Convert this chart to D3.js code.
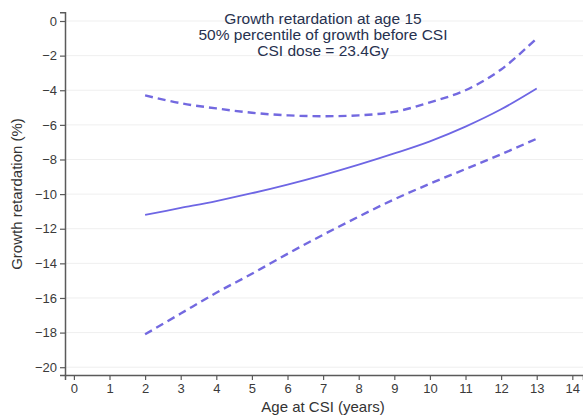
<!DOCTYPE html>
<html><head><meta charset="utf-8">
<script src="https://cdn.jsdelivr.net/npm/d3@7"></script>
<style>body{margin:0;background:#fff;} svg{display:block;font-family:"Liberation Sans",Arial,sans-serif;}</style>
</head><body>
<svg id="c" width="583" height="416"></svg>
<script>
const ages = [2,3,4,5,6,7,8,9,10,11,12,13];
const estimate = [-11.2,-10.8,-10.4,-9.95,-9.45,-8.9,-8.3,-7.65,-6.95,-6.1,-5.1,-3.9];
const upperCI = [-4.3,-4.75,-5.05,-5.3,-5.45,-5.5,-5.45,-5.25,-4.7,-4.0,-2.8,-1.0];
const lowerCI = [-18.1,-16.9,-15.7,-14.6,-13.45,-12.35,-11.3,-10.3,-9.4,-8.55,-7.7,-6.8];
const xTicks = d3.range(0,15);
const yTicks = [0,-2,-4,-6,-8,-10,-12,-14,-16,-18,-20];
const titleLines = ["Growth retardation at age 15","50% percentile of growth before CSI","CSI dose = 23.4Gy"];
const xLabel = "Age at CSI (years)";
const yLabel = "Growth retardation (%)";

const svg = d3.select("#c");
const x = d3.scaleLinear().domain([-0.25,14.3]).range([65,583]);
const y = d3.scaleLinear().domain([0.5,-20.45]).range([12.35,375]);

// gridlines
svg.append("g").selectAll("line").data(yTicks).join("line")
  .attr("x1",x(-0.25)).attr("x2",583).attr("y1",d=>y(d)).attr("y2",d=>y(d))
  .attr("stroke","#efefef").attr("stroke-width",1);

// axes
const axStroke = "#5a5a5a";
const gy = svg.append("g").attr("transform",`translate(${x(-0.25)},0)`)
  .call(d3.axisLeft(y).tickValues(yTicks).tickSize(5).tickPadding(3).tickFormat(d=>d===0?"0":d3.format("d")(d)));
const gx = svg.append("g").attr("transform",`translate(0,${y(-20.45)})`)
  .call(d3.axisBottom(x).tickValues(xTicks).tickSize(5).tickPadding(4));
[gx,gy].forEach(g=>{
  g.select(".domain").attr("stroke",axStroke).attr("stroke-width",1.5);
  g.selectAll(".tick line").attr("stroke",axStroke).attr("stroke-width",1.2);
  g.selectAll(".tick text").attr("fill","#3a3a3a").style("font-size","13px").style("font-family","'Liberation Sans',Arial,sans-serif");
});

// lines
const line = d3.line().x((d,i)=>x(ages[i])).y(d=>y(d)).curve(d3.curveCatmullRom);
const col = "#6e66e4";
svg.append("path").attr("d",line(estimate)).attr("fill","none").attr("stroke",col).attr("stroke-width",1.8);
[upperCI,lowerCI].forEach(s=>{
  svg.append("path").attr("d",line(s)).attr("fill","none").attr("stroke","#7369e0")
    .attr("stroke-width",2.4).attr("stroke-dasharray","8,5");
});

// title
svg.append("g").selectAll("text").data(titleLines).join("text")
  .attr("x",323).attr("y",(d,i)=>24+i*16).attr("text-anchor","middle")
  .attr("fill","#27314f").style("font-size","15.5px").text(d=>d);

// axis labels
svg.append("text").attr("x",323).attr("y",412).attr("text-anchor","middle")
  .attr("fill","#333").style("font-size","15px").text(xLabel);
svg.append("text").attr("transform","translate(22,194) rotate(-90)").attr("text-anchor","middle")
  .attr("fill","#333").style("font-size","15px").text(yLabel);
</script>
</body></html>
